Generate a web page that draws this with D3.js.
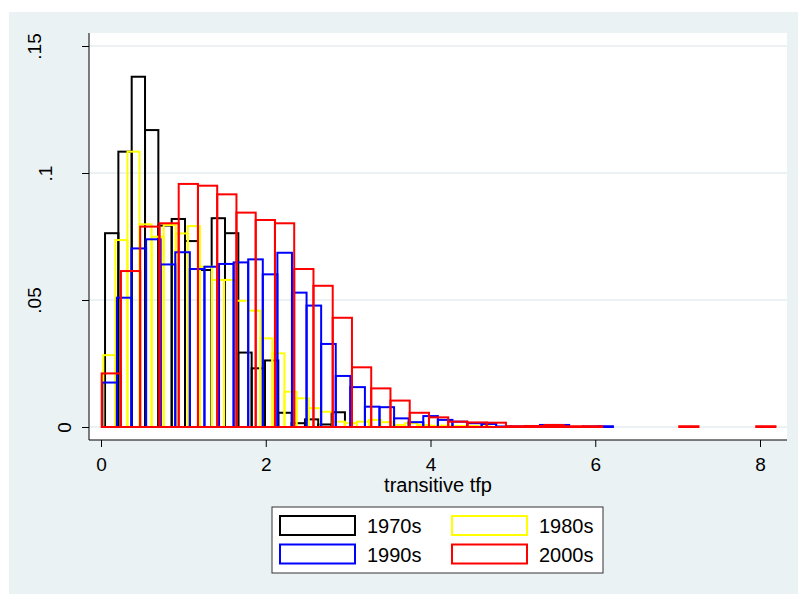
<!DOCTYPE html>
<html>
<head>
<meta charset="utf-8">
<script src="https://cdn.jsdelivr.net/npm/d3@7/dist/d3.min.js"></script>
<style>
body { margin: 0; background: #fff; }
text { font-family: Arial, "Liberation Sans", sans-serif; fill: #000; }
</style>
</head>
<body>
<div id="my_dataviz"></div>
<script>
// decades shown in the legend
var decades = ["1970s", "1980s", "1990s", "2000s"];
var colors = ["#000000", "#ffff00", "#0000ff", "#ff0000"];

// first bin edge and bin width of each histogram (tfp units)
var binStart = [0.049, 0.028, 0.016, 0.0085];
var binWidth = [0.1618, 0.1466, 0.1771, 0.2337];

// densities
var dens1970 = [0.0763, 0.1084, 0.1379, 0.1169, 0.0793, 0.0819, 0.0732, 0.0618, 0.0822,
    0.0763, 0.0293, 0.0231, 0.0262, 0.0056, 0.0015, 0.0030, 0.0010, 0.0058];
var dens1980 = [0.0283, 0.0736, 0.1084, 0.0798, 0.0749, 0.0795, 0.0762, 0.0791, 0.0631,
    0.0579, 0.0579, 0.0497, 0.0458, 0.0349, 0.0290, 0.0139, 0.0113, 0.0074, 0.0060,
    0.0021, 0.0015, 0.0021, 0.0028, 0.0019, 0.0008, 0.0015, 0.0008, 0.0005, 0.0005,
    0.0004, 0.0004, 0.0003];
var dens1990 = [0.0175, 0.0509, 0.0703, 0.0739, 0.0640, 0.0688, 0.0622, 0.0631, 0.0642,
    0.0648, 0.0660, 0.0601, 0.0686, 0.0529, 0.0478, 0.0327, 0.0201, 0.0157, 0.0080,
    0.0078, 0.0034, 0.0019, 0.0043, 0.0028, 0.0021, 0.0015, 0.0012, 0.0002, 0.0002,
    0.0003, 0.0008, 0.0008, 0, 0.0002, 0.0003];
var dens2000 = [0.0211, 0.0614, 0.0789, 0.0802, 0.0957, 0.0950, 0.0916, 0.0844, 0.0815,
    0.0802, 0.0622, 0.0556, 0.0430, 0.0235, 0.0152, 0.0104, 0.0056, 0.0038, 0.0021,
    0.0018, 0.0017, 0.0003, 0.0004, 0.0008, 0.0003, 0.0003, 0, 0, 0, 0, 0.0003,
    0, 0, 0, 0.0003];
var densities = [dens1970, dens1980, dens1990, dens2000];

// axis ticks
var xTicks = [0, 2, 4, 6, 8];
var yTicks = [0, 0.05, 0.1, 0.15];
var yTickLabels = ["0", ".05", ".1", ".15"];

var W = 800, H = 597;
var svg = d3.select("#my_dataviz")
    .append("svg")
    .attr("width", W)
    .attr("height", H);

// outer graph region
svg.append("rect")
    .attr("x", 9).attr("y", 12)
    .attr("width", 789).attr("height", 582)
    .attr("fill", "#eaf2f3");

// plot region
var plot = {left: 89, right: 787, top: 33, bottom: 440};
svg.append("rect")
    .attr("x", plot.left).attr("y", plot.top)
    .attr("width", plot.right - plot.left)
    .attr("height", plot.bottom - plot.top)
    .attr("fill", "#fff");

var x = d3.scaleLinear().domain([0, 8]).range([101, 760]);
var y = d3.scaleLinear().domain([0, 0.15]).range([427, 46]);

// grid lines
svg.append("g")
    .selectAll("line")
    .data(yTicks)
    .enter()
    .append("line")
    .attr("x1", plot.left).attr("x2", plot.right)
    .attr("y1", function(d) { return y(d); })
    .attr("y2", function(d) { return y(d); })
    .attr("stroke", "#e6eef0")
    .attr("stroke-width", 1.5);

// the bars, one histogram per decade
densities.forEach(function(dens, s) {
    var bins = dens.map(function(v, i) {
        return {x0: binStart[s] + i * binWidth[s], x1: binStart[s] + (i + 1) * binWidth[s], v: v};
    }).filter(function(d) { return d.v > 0; });
    svg.append("g")
        .selectAll("rect")
        .data(bins)
        .enter()
        .append("rect")
        .attr("x", function(d) { return x(d.x0); })
        .attr("width", function(d) { return x(d.x1) - x(d.x0); })
        .attr("y", function(d) { return y(d.v); })
        .attr("height", function(d) { return y(0) - y(d.v); })
        .attr("fill", "none")
        .attr("stroke", colors[s])
        .attr("stroke-width", 2);
});

// y axis
var yAxis = svg.append("g")
    .attr("transform", "translate(" + plot.left + ",0)")
    .call(d3.axisLeft(y).tickValues(yTicks).tickSize(7)
        .tickFormat(function(d, i) { return yTickLabels[i]; }));
yAxis.select(".domain").attr("d", "M0," + plot.top + "V" + plot.bottom).attr("stroke", "#000");
yAxis.selectAll(".tick line").attr("stroke", "#000");
yAxis.selectAll(".tick text")
    .attr("font-size", 19)
    .attr("text-anchor", "middle")
    .attr("x", 0).attr("dy", 0)
    .attr("transform", function(d, i) {
        var len = yTickLabels[i].length;
        var cx = len === 1 ? -18 : (len === 2 ? -37 : -48);
        return "translate(" + cx + ",0) rotate(-90)";
    })
    .attr("y", 0);

// x axis
var xAxis = svg.append("g")
    .attr("transform", "translate(0," + plot.bottom + ")")
    .call(d3.axisBottom(x).tickValues(xTicks).tickSize(7).tickFormat(d3.format("d")));
xAxis.select(".domain").attr("d", "M" + plot.left + ",0H" + plot.right).attr("stroke", "#000");
xAxis.selectAll(".tick line").attr("stroke", "#000");
xAxis.selectAll(".tick text")
    .attr("font-size", 19)
    .attr("y", 31).attr("dy", 0);

svg.append("text")
    .attr("x", (plot.left + plot.right) / 2)
    .attr("y", 492)
    .attr("text-anchor", "middle")
    .attr("font-size", 20)
    .text("transitive tfp");

// legend
var legend = svg.append("g");
legend.append("rect")
    .attr("x", 272).attr("y", 507)
    .attr("width", 331).attr("height", 66)
    .attr("fill", "#fff")
    .attr("stroke", "#333")
    .attr("stroke-width", 1);
decades.forEach(function(name, i) {
    var col = i % 2, row = Math.floor(i / 2);
    var sx = 280 + col * 172, sy = 516 + row * 28.5;
    legend.append("rect")
        .attr("x", sx).attr("y", sy)
        .attr("width", 75).attr("height", 19)
        .attr("fill", "#fff")
        .attr("stroke", colors[i])
        .attr("stroke-width", 2);
    legend.append("text")
        .attr("x", sx + 87).attr("y", sy + 17)
        .attr("font-size", 20)
        .text(name);
});
</script>
</body>
</html>
